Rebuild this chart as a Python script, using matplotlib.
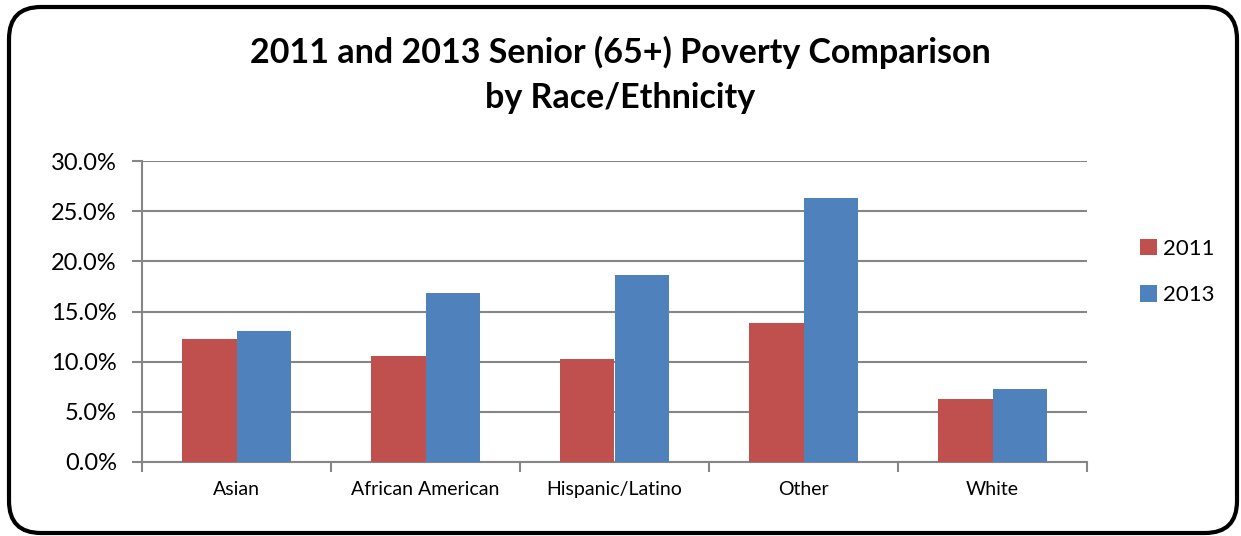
import matplotlib.pyplot as plt
import numpy as np
from matplotlib.patches import FancyBboxPatch
from matplotlib.ticker import PercentFormatter

categories = ["Asian", "African American", "Hispanic/Latino", "Other", "White"]
pov_2011 = [12.3, 10.6, 10.3, 13.9, 6.3]
pov_2013 = [13.1, 16.8, 18.6, 26.3, 7.3]
series_names = ["2011", "2013"]

red = "#C0504D"
blue = "#4F81BD"
grid_col = "#868686"

plt.rcParams["font.family"] = ["Lato", "DejaVu Sans"]

W, H = 1241, 536
fig = plt.figure(figsize=(W / 100, H / 100), dpi=100)

# rounded outer frame, drawn in pixel coords
frame = FancyBboxPatch((9, H - 533), 1228, 526,
                       boxstyle="round,pad=0,rounding_size=32",
                       transform=None, facecolor="none",
                       edgecolor="black", linewidth=3.0)
fig.patches.append(frame)

fig.text(0.5, 1 - 52 / H, "2011 and 2013 Senior (65+) Poverty Comparison",
         ha="center", va="center", fontsize=24.5, fontweight="bold")
fig.text(0.5, 1 - 98 / H, "by Race/Ethnicity",
         ha="center", va="center", fontsize=24.5, fontweight="bold")

ax = fig.add_axes([142 / W, 1 - 462 / H, (1087 - 142) / W, (462 - 161) / H])

x = np.arange(len(categories))
bw = 0.286
ax.bar(x - bw / 2, pov_2011, bw, color=red, label=series_names[0], zorder=3)
ax.bar(x + bw / 2, pov_2013, bw, color=blue, label=series_names[1], zorder=3)

ax.set_xlim(-0.5, len(categories) - 0.5)
ax.set_ylim(0, 30)
ax.set_yticks(np.arange(0, 31, 5))
ax.yaxis.set_major_formatter(PercentFormatter(decimals=1))
ax.yaxis.grid(True, color=grid_col, linewidth=1.5, zorder=0)

ax.set_xticks(x)
ax.set_xticklabels(categories, fontsize=14)
ax.tick_params(axis="x", length=0, pad=14)
ax.set_xticks(np.arange(-0.5, len(categories)), minor=True)
ax.tick_params(axis="x", which="minor", length=7, width=1.5, color=grid_col, direction="out")
ax.tick_params(axis="y", length=7, width=1.5, color=grid_col, labelsize=17, pad=11)

for s in ["top", "right"]:
    ax.spines[s].set_visible(False)
for s in ["left", "bottom"]:
    ax.spines[s].set_color(grid_col)
    ax.spines[s].set_linewidth(1.5)

ax.legend(loc="center left", bbox_to_anchor=(1120 / W, 1 - 272 / H),
          bbox_transform=fig.transFigure, frameon=False, fontsize=16,
          handlelength=0.75, handleheight=0.75, handletextpad=0.3, labelspacing=1.2)

fig.savefig("out.png", dpi=100)
